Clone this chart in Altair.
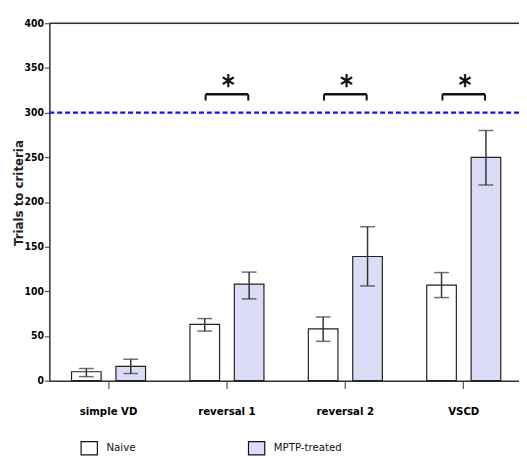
import altair as alt
import pandas as pd

groups = ["simple VD", "reversal 1", "reversal 2", "VSCD"]
series = ["Naive", "MPTP-treated"]
naive_mean = [10, 63, 58, 107]
naive_lo = [4.5, 55.5, 44, 93]
naive_hi = [13.6, 69.5, 71.3, 121]
mptp_mean = [16, 108, 139, 250]
mptp_lo = [8, 91.5, 106, 219]
mptp_hi = [24, 121.5, 172.3, 280]
criterion = 300
sig_groups = ["reversal 1", "reversal 2", "VSCD"]
sig_bar_top = 320.5
sig_bar_leg = 313.5
sig_star_y = 328

rows = []
for i, g in enumerate(groups):
    rows.append({"group": g, "series": "Naive", "mean": naive_mean[i], "lo": naive_lo[i], "hi": naive_hi[i]})
    rows.append({"group": g, "series": "MPTP-treated", "mean": mptp_mean[i], "lo": mptp_lo[i], "hi": mptp_hi[i]})
df = pd.DataFrame(rows)
sig = pd.DataFrame({"group": sig_groups, "top": [sig_bar_top] * 3, "leg": [sig_bar_leg] * 3,
                    "star": [sig_star_y] * 3, "label": ["*"] * 3})

NARROW = "DejaVu Sans Condensed"

xscale = alt.Scale(domain=groups, range=[0, 481], paddingInner=0, paddingOuter=0)
yscale = alt.Scale(domain=[0, 400], nice=False)
offscale = alt.Scale(domain=series, paddingInner=0.333, paddingOuter=0.5)

X = alt.X("group:N", scale=xscale, sort=groups,
          axis=alt.Axis(title=None, labelAngle=0, labelFont=NARROW, labelFontSize=11.5,
                        labelFontWeight="bold", labelColor="#000", labelPadding=17,
                        tickSize=8, tickColor="#555", tickWidth=1.2,
                        domainColor="#333", domainWidth=1.5))
Y = alt.Y("mean:Q", scale=yscale,
          axis=alt.Axis(title="Trials to criteria", values=list(range(0, 401, 50)), grid=False,
                        labelFont=NARROW, labelFontSize=10.5, labelFontWeight="bold",
                        labelColor="#000", labelPadding=1, tickSize=5, tickColor="#333",
                        domainColor="#333", domainWidth=1.5,
                        titleFont="DejaVu Sans", titleFontSize=12, titleFontWeight="bold",
                        titleColor="#222", titleX=-27, titleY=172, titleBaseline="alphabetic",
                        titleAngle=270))
XO = alt.XOffset("series:N", scale=offscale, sort=series)

bars = alt.Chart(df).mark_bar(stroke="#222", strokeWidth=1.2).encode(
    x=X, xOffset=XO, y=Y,
    fill=alt.Fill("series:N", sort=series,
                  scale=alt.Scale(domain=series, range=["#ffffff", "#dcdcf6"]),
                  legend=alt.Legend(title=None, orient="none", legendX=32, legendY=423,
                                    direction="horizontal", columnPadding=111,
                                    symbolType="M-1.1,-0.9H1.1V0.9H-1.1Z", symbolSize=225,
                                    symbolStrokeColor="#111", symbolStrokeWidth=1.2,
                                    labelFont=NARROW, labelFontSize=11.5, labelColor="#111",
                                    labelOffset=9, padding=0)),
)

err = alt.Chart(df).mark_rule(color="#333", strokeWidth=1.5).encode(
    x=alt.X("group:N", scale=xscale, sort=groups), xOffset=XO,
    y=alt.Y("lo:Q", scale=yscale), y2="hi:Q")
cap_lo = alt.Chart(df).mark_tick(color="#333", thickness=1.5, size=15).encode(
    x=alt.X("group:N", scale=xscale, sort=groups), xOffset=XO,
    y=alt.Y("lo:Q", scale=yscale))
cap_hi = alt.Chart(df).mark_tick(color="#333", thickness=1.5, size=15).encode(
    x=alt.X("group:N", scale=xscale, sort=groups), xOffset=XO,
    y=alt.Y("hi:Q", scale=yscale))

topline = alt.Chart(pd.DataFrame({"v": [400]})).mark_rule(color="#333", strokeWidth=1.5).encode(
    y=alt.Y("v:Q", scale=yscale))
crit = alt.Chart(pd.DataFrame({"v": [criterion]})).mark_rule(
    color="#1010f0", strokeWidth=2.2, strokeDash=[5, 3]).encode(y=alt.Y("v:Q", scale=yscale))

br_h = alt.Chart(sig).mark_rule(color="#111", strokeWidth=2.5).encode(
    x=alt.X("group:N", scale=xscale, sort=groups, bandPosition=0.32),
    x2=alt.X2("group", bandPosition=0.68),
    y=alt.Y("top:Q", scale=yscale))
br_l = alt.Chart(sig).mark_rule(color="#111", strokeWidth=2).encode(
    x=alt.X("group:N", scale=xscale, sort=groups, bandPosition=0.32),
    y=alt.Y("leg:Q", scale=yscale), y2="top:Q")
br_r = alt.Chart(sig).mark_rule(color="#111", strokeWidth=2).encode(
    x=alt.X("group:N", scale=xscale, sort=groups, bandPosition=0.68),
    y=alt.Y("leg:Q", scale=yscale), y2="top:Q")
stars = alt.Chart(sig).mark_text(fontSize=28, font=NARROW, fontWeight="bold",
                                 baseline="middle", color="#111").encode(
    x=alt.X("group:N", scale=xscale, sort=groups, bandPosition=0.51),
    y=alt.Y("star:Q", scale=yscale), text="label:N")

chart = alt.layer(topline, crit, bars, err, cap_lo, cap_hi, br_h, br_l, br_r, stars).properties(
    width=477, height=363,
    autosize=alt.AutoSizeParams(type="none"),
    padding={"left": 42, "top": 12, "right": 0, "bottom": 73},
).configure_view(stroke=None).configure(background="white")

chart.save("out.html", embed_options={"renderer": "svg", "actions": False})
